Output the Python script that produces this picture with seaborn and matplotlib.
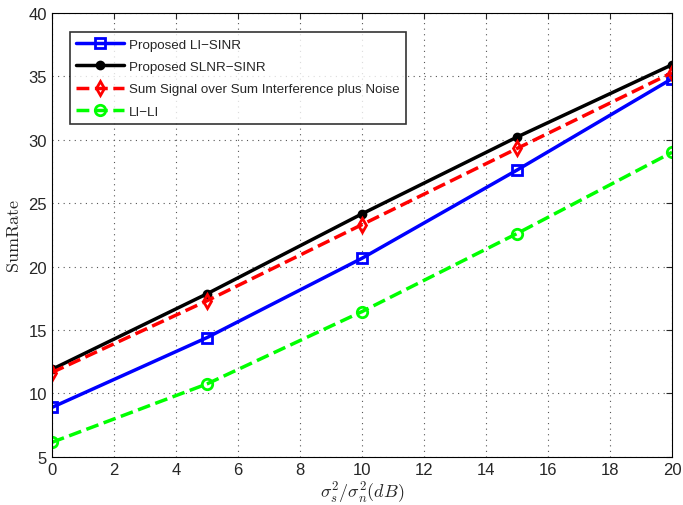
import matplotlib
matplotlib.use("Agg")
import matplotlib.pyplot as plt
import seaborn as sns
import pandas as pd

snr_db = [0, 5, 10, 15, 20]
li_sinr = [8.9, 14.4, 20.65, 27.6, 34.8]
slnr_sinr = [11.9, 17.85, 24.15, 30.2, 35.9]
sum_signal = [11.65, 17.3, 23.3, 29.3, 35.27]
li_li = [6.15, 10.75, 16.45, 22.6, 29.0]
labels = ["Proposed LI\u2212SINR", "Proposed SLNR\u2212SINR",
          "Sum Signal over Sum Interference plus Noise", "LI\u2212LI"]

sns.set_style("white")
plt.rcParams['font.family'] = ['Liberation Sans', 'DejaVu Sans']
plt.rcParams['mathtext.fontset'] = 'cm'

fig = plt.figure(figsize=(6.83, 5.06), dpi=100)
ax = fig.add_axes([0.076, 0.095, 0.908, 0.878])

styles = [
    dict(color="#0000ff", ls="-", marker="s", mfc="none", ms=6.5, mew=2),
    dict(color="black", ls="-", marker="o", mfc="black", ms=5.5, mew=1.5),
    dict(color="#ff0000", ls="--", marker="d", mfc="none", ms=7.5, mew=2),
    dict(color="#00ff00", ls="--", marker="o", mfc="none", ms=7.5, mew=2),
]
series = [li_sinr, slnr_sinr, sum_signal, li_li]
for vals, lab, st in zip(series, labels, styles):
    df = pd.DataFrame({"x": snr_db, "y": vals})
    sns.lineplot(data=df, x="x", y="y", ax=ax, label=lab, color=st["color"],
                 linestyle=st["ls"], marker=st["marker"], markerfacecolor=st["mfc"],
                 markeredgecolor=st["color"], markersize=st["ms"],
                 markeredgewidth=st["mew"], linewidth=2.5,
                 dashes=(st["ls"] == "--") and (4, 2.5) or "")

ax.set_xlim(0, 20)
ax.set_ylim(5, 40)
ax.set_xticks(range(0, 21, 2))
ax.set_yticks(range(5, 41, 5))
ax.tick_params(direction="in", labelsize=12, length=4, top=True, right=True, width=0.8)
ax.grid(True, linestyle=(0, (1, 4)), color="#555555", linewidth=0.8)
for s in ax.spines.values():
    s.set_color("black")
    s.set_linewidth(0.8)
ax.set_xlabel(r"$\sigma_s^2/\sigma_n^2(dB)$", fontsize=13, labelpad=2)
ax.set_ylabel(r"$\mathrm{SumRate}$", fontsize=13, labelpad=4)

leg = ax.legend(loc="upper left", bbox_to_anchor=(0.029, 0.956), fontsize=9.6,
                frameon=True, fancybox=False, edgecolor="black",
                handlelength=3.6, borderpad=0.45, labelspacing=0.75,
                handletextpad=0.4, borderaxespad=0.0)
leg.get_frame().set_linewidth(1.2)

fig.savefig("out.png", dpi=100)
